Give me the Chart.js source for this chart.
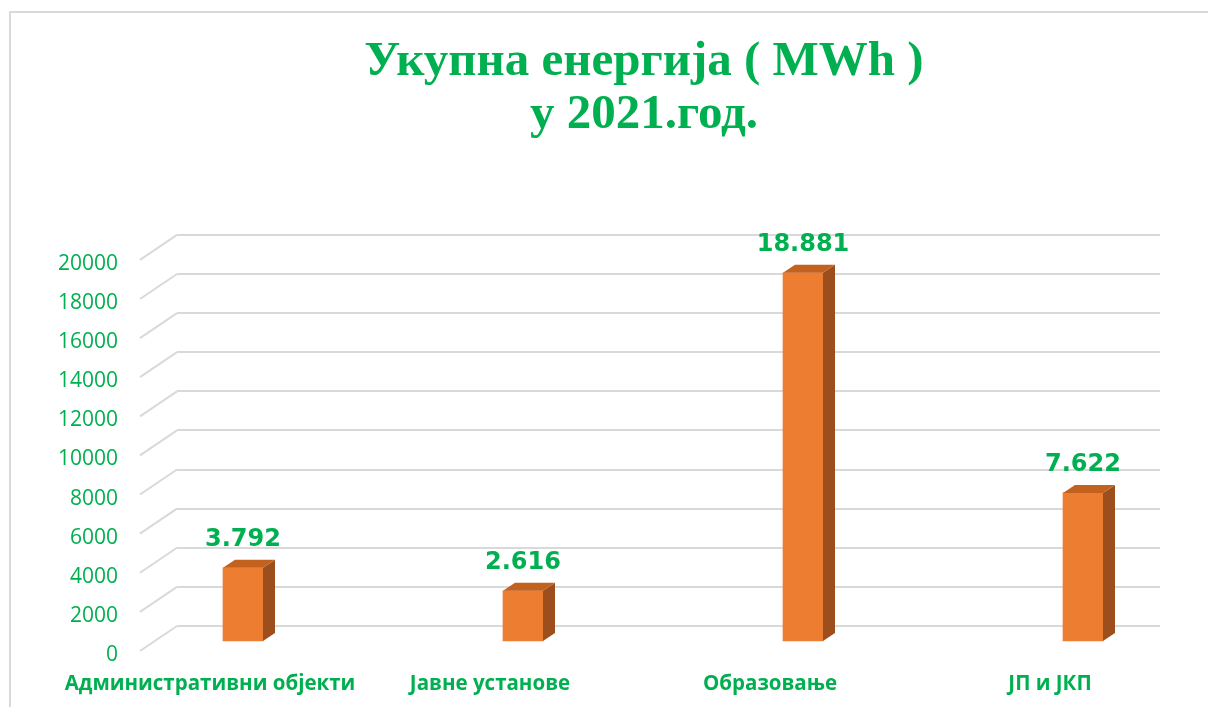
<!DOCTYPE html>
<html>
<head>
<meta charset="utf-8">
<script src="https://cdn.jsdelivr.net/npm/chart.js@4.4.1/dist/chart.umd.min.js"></script>
<style>
html,body{margin:0;padding:0;background:#fff;overflow:hidden}
#wrap{position:relative;width:1208px;height:707px}
#frame{position:absolute;left:9px;top:11px;width:1250px;height:760px;border-top:2px solid #d9d9d9;border-left:2px solid #d9d9d9;pointer-events:none}
</style>
</head>
<body>
<div id="wrap"><canvas id="c" width="1208" height="707"></canvas><div id="frame"></div></div>
<script>
const categories = ['Административни објекти', 'Јавне установе', 'Образовање', 'ЈП и ЈКП'];
const energyMWh = [3792, 2616, 18881, 7622];
const yTickValues = [0, 2000, 4000, 6000, 8000, 10000, 12000, 14000, 16000, 18000, 20000];
const titleLines = ['Укупна енергија ( MWh )', 'у 2021.год.'];

const GREEN = '#00B050';
const FRONT = '#ED7D31', SIDE = '#9C4F1D', TOP = '#C3621F';
const FRONT_DY = 16, DEPTH_X = 12, DEPTH_Y = 8;

function fmtThousands(v) {
  const s = String(Math.round(v));
  return s.replace(/\B(?=(\d{3})+(?!\d))/g, '.');
}

const titlePlace = {
  id: 'titlePlace',
  afterLayout(chart) {
    if (chart.titleBlock) {
      chart.titleBlock.left = 80;
      chart.titleBlock.right = 1208;
    }
  }
};

const bar3d = {
  id: 'bar3d',
  beforeDatasetsDraw(chart) {
    const ctx = chart.ctx;
    const ys = chart.scales.y;
    const left = chart.chartArea.left;
    ctx.save();
    ctx.strokeStyle = '#d9d9d9';
    ctx.lineWidth = 2;
    ys.ticks.forEach(t => {
      const py = ys.getPixelForValue(t.value);
      ctx.beginPath();
      ctx.moveTo(left - 37, py + 25);
      ctx.lineTo(left, py);
      ctx.stroke();
    });
    ctx.restore();
    ctx.save();
    ctx.translate(0, FRONT_DY);
  },
  afterDatasetsDraw(chart) {
    const ctx = chart.ctx;
    const meta = chart.getDatasetMeta(0);
    const vals = chart.data.datasets[0].data;
    meta.data.forEach((b, i) => {
      const p = b.getProps(['x', 'y', 'base', 'width'], true);
      const l = p.x - p.width / 2, r = p.x + p.width / 2;
      ctx.fillStyle = SIDE;
      ctx.beginPath();
      ctx.moveTo(r, p.y);
      ctx.lineTo(r + DEPTH_X, p.y - DEPTH_Y);
      ctx.lineTo(r + DEPTH_X, p.base - DEPTH_Y);
      ctx.lineTo(r, p.base);
      ctx.closePath();
      ctx.fill();
      ctx.fillStyle = TOP;
      ctx.beginPath();
      ctx.moveTo(l, p.y);
      ctx.lineTo(l + DEPTH_X, p.y - DEPTH_Y);
      ctx.lineTo(r + DEPTH_X, p.y - DEPTH_Y);
      ctx.lineTo(r, p.y);
      ctx.closePath();
      ctx.fill();
      ctx.fillStyle = GREEN;
      ctx.font = 'bold 24px "DejaVu Sans"';
      ctx.textAlign = 'center';
      ctx.textBaseline = 'middle';
      ctx.fillText(fmtThousands(vals[i].y), p.x, p.y - 28);
    });
    ctx.restore();
  }
};

new Chart(document.getElementById('c'), {
  type: 'bar',
  data: {
    datasets: [{
      data: energyMWh.map((v, i) => ({ x: i, y: v })),
      backgroundColor: FRONT,
      borderWidth: 0,
      barThickness: 40,
      clip: false
    }]
  },
  options: {
    responsive: false,
    animation: false,
    layout: { padding: { left: 50, right: 48, top: 0, bottom: 0 } },
    plugins: {
      legend: { display: false },
      tooltip: { enabled: false },
      title: {
        display: true,
        text: titleLines,
        color: GREEN,
        font: { family: '"Liberation Serif", "Times New Roman", serif', size: 49, weight: 'bold', lineHeight: 1.08 },
        padding: { top: 36, bottom: 93 }
      }
    },
    scales: {
      x: {
        type: 'linear',
        offset: false,
        min: -0.2357,
        max: 3.275,
        afterFit: s => { s.height = 81; },
        afterBuildTicks: s => { s.ticks = categories.map((c, i) => ({ value: i })); },
        grid: { display: false, drawTicks: false },
        border: { display: false },
        ticks: {
          callback: v => categories[v],
          autoSkip: false,
          maxRotation: 0,
          padding: 46,
          labelOffset: -33,
          color: GREEN,
          font: { family: '"Open Sans"', size: 20.5, weight: 'bold' }
        }
      },
      y: {
        min: 0,
        max: 20000,
        afterFit: s => { s.width = 127; },
        afterBuildTicks: s => { s.ticks = yTickValues.map(v => ({ value: v })); },
        grid: { color: '#d9d9d9', lineWidth: 2, drawTicks: false },
        border: { display: false },
        ticks: {
          autoSkip: false,
          callback: v => String(v),
          padding: 59,
          labelOffset: 29,
          color: GREEN,
          font: { family: '"Open Sans"', size: 21 }
        }
      }
    }
  },
  plugins: [titlePlace, bar3d]
});
</script>
</body>
</html>
